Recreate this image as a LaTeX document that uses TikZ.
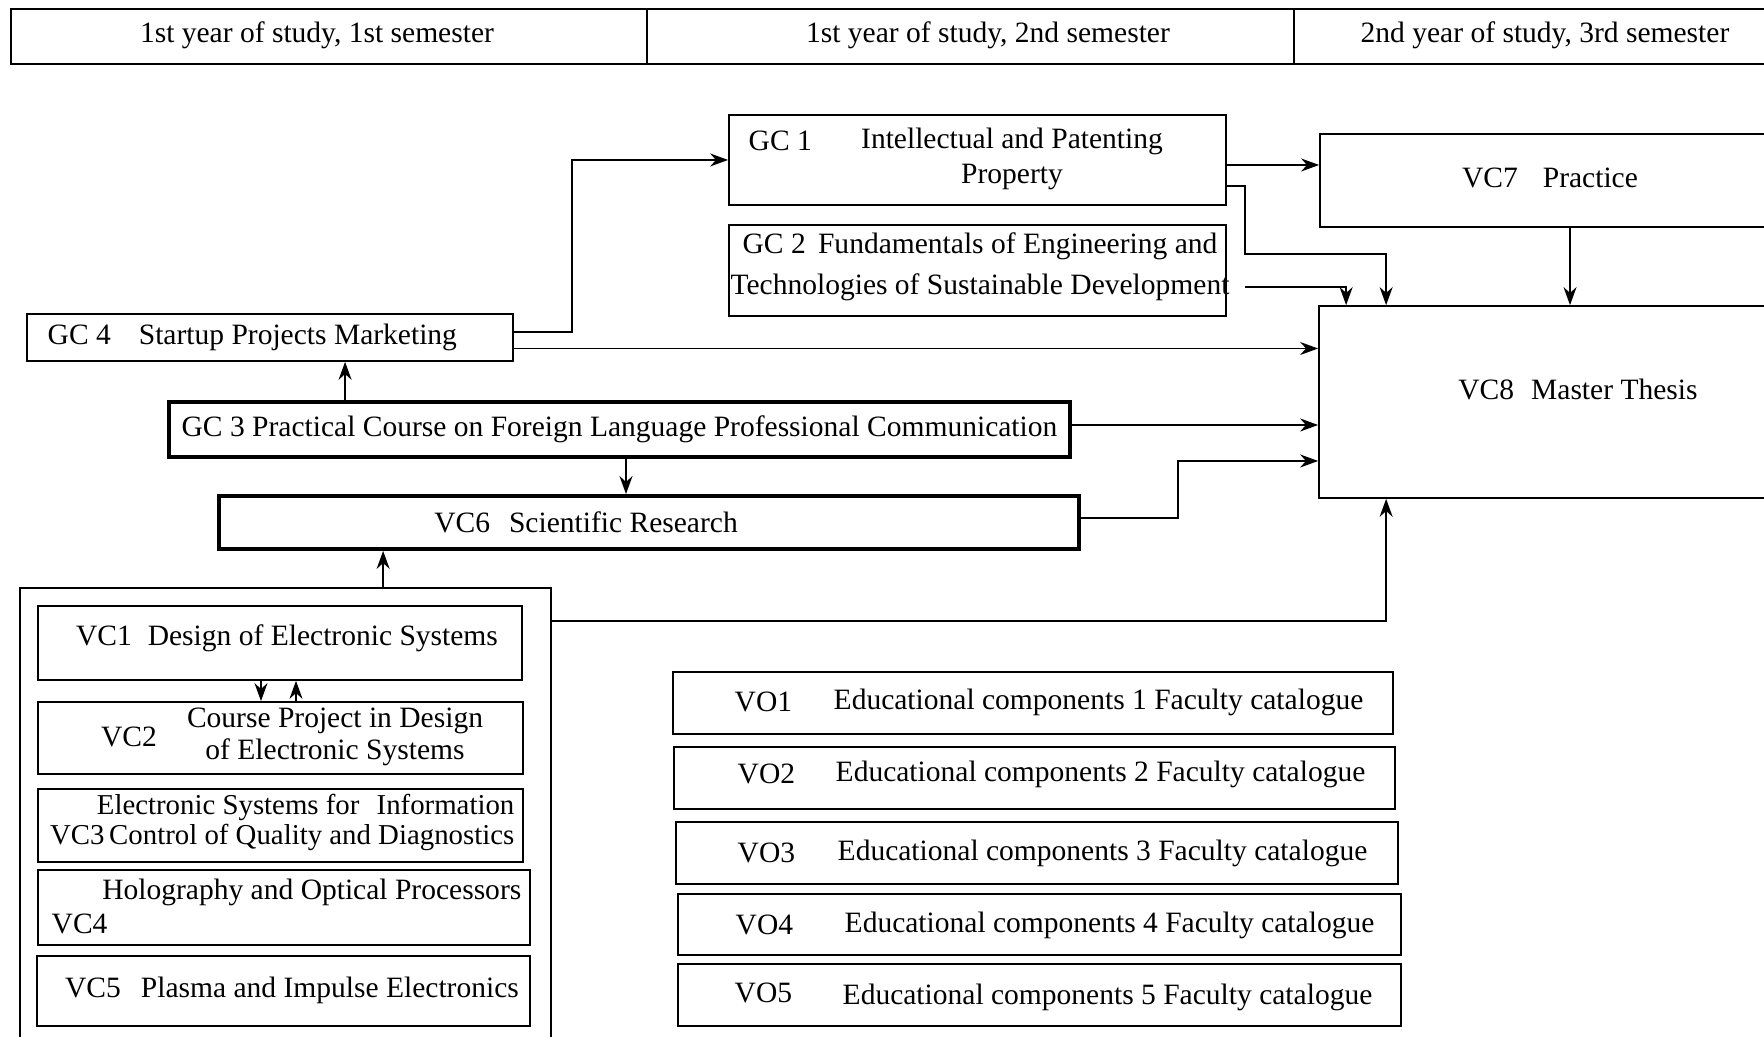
\documentclass[tikz,border=0pt]{standalone}
\usepackage{fontspec}
\setmainfont{Liberation Serif}
\usepackage{tikz}
\usetikzlibrary{arrows.meta,positioning,calc}

\tikzset{
  box/.style={draw, rectangle, inner sep=0pt, line width=0.5pt},
  boldbox/.style={box, line width=1.1pt},
  txt/.style={inner sep=0pt},
  arr/.style={-{Stealth[length=1.8mm,width=1.3mm]}, line width=0.5pt},
}

\begin{document}
\begin{tikzpicture}[font=\fontsize{8.4}{10.2}\selectfont]
  \useasboundingbox (0,0) rectangle (17.64,10.37);
  % Semester header
  \node[box, minimum width=6.36cm, minimum height=0.55cm] (semA) at (3.29,10.005) {};
  \node[box, minimum width=6.47cm, minimum height=0.55cm] (semB) at (9.705,10.005) {};
  \node[box, minimum width=5.06cm, minimum height=0.55cm] (semC) at (15.47,10.005) {};
  \node[txt] (semAtxt) at (3.17,10.02) {1st year of study, 1st semester};
  \node[txt] (semBtxt) at (9.88,10.02) {1st year of study, 2nd semester};
  \node[txt] (semCtxt) at (15.45,10.02) {2nd year of study, 3rd semester};
  % General competences
  \node[box, minimum width=4.97cm, minimum height=0.90cm] (gc1) at (9.775,8.77) {};
  \node[txt, anchor=west] (gc1id) at (7.48,8.96) {GC 1};
  \node[txt, align=center] (gc1txt) at (10.12,8.78) {Intellectual and Patenting\\Property};
  \node[box, minimum width=4.97cm, minimum height=0.91cm] (gc2) at (9.775,7.665) {};
  \node[txt, align=center, font=\fontsize{8.4}{11.6}\selectfont] (gc2txt) at (9.80,7.705)
    {GC 2\, Fundamentals of Engineering and\\Technologies of Sustainable Development};
  \node[box, minimum width=4.86cm, minimum height=0.47cm] (gc4) at (2.70,6.995) {};
  \node[txt, anchor=west] (gc4txt) at (0.47,7.0) {GC 4\hspace{2.8mm}Startup Projects Marketing};
  \node[boldbox, minimum width=9.01cm, minimum height=0.55cm] (gc3) at (6.195,6.075)
    {GC 3 Practical Course on Foreign Language Professional Communication};
  \node[boldbox, minimum width=8.60cm, minimum height=0.53cm] (vc6) at (6.49,5.145) {};
  \node[txt] (vc6txt) at (5.86,5.15) {VC6\hspace{1.9mm}Scientific Research};
  % Practice and thesis
  \node[box, minimum width=4.70cm, minimum height=0.93cm] (vc7) at (15.55,8.565) {};
  \node[txt] (vc7txt) at (15.50,8.59) {VC7\hspace{2.5mm}Practice};
  \node[box, minimum width=4.71cm, minimum height=1.92cm] (vc8) at (15.545,6.35) {};
  \node[txt] (vc8txt) at (15.78,6.48) {VC8\hspace{1.7mm}Master Thesis};
  % Compulsory components group
  \node[box, minimum width=5.31cm, minimum height=4.79cm] (vcgroup) at (2.855,2.095) {};
  \node[box, minimum width=4.84cm, minimum height=0.74cm] (vc1) at (2.80,3.94) {};
  \node[txt] (vc1txt) at (2.87,3.99) {VC1\hspace{1.6mm}Design of Electronic Systems};
  \node[box, minimum width=4.85cm, minimum height=0.72cm] (vc2) at (2.805,2.99) {};
  \node[txt] (vc2id) at (1.29,3.00) {VC2};
  \node[txt, align=center, font=\fontsize{8.4}{9.1}\selectfont] (vc2txt) at (3.35,3.00)
    {Course Project in Design\\of Electronic Systems};
  \node[box, minimum width=4.85cm, minimum height=0.73cm] (vc3) at (2.805,2.115) {};
  \node[txt, align=right, anchor=east, font=\fontsize{8.2}{8.6}\selectfont] (vc3txt) at (5.15,2.145)
    {Electronic Systems for\hspace{1mm} Information\\VC3\,Control of Quality and Diagnostics};
  \node[box, minimum width=4.92cm, minimum height=0.75cm] (vc4) at (2.84,1.295) {};
  \node[txt, anchor=east] (vc4txt) at (5.22,1.45) {Holography and Optical Processors};
  \node[txt, anchor=west] (vc4id) at (0.51,1.13) {VC4};
  \node[box, minimum width=4.93cm, minimum height=0.70cm] (vc5) at (2.835,0.46) {};
  \node[txt] (vc5txt) at (2.92,0.47) {VC5\hspace{2mm}Plasma and Impulse Electronics};
  % Elective components
  \node[box, minimum width=7.20cm, minimum height=0.62cm] (vo1) at (10.33,3.34) {};
  \node[txt, anchor=west] (vo1id) at (7.34,3.35) {VO1};
  \node[txt, anchor=west] (vo1txt) at (8.33,3.35) {Educational components 1 Faculty catalogue};
  \node[box, minimum width=7.21cm, minimum height=0.62cm] (vo2) at (10.345,2.59) {};
  \node[txt, anchor=west] (vo2id) at (7.37,2.63) {VO2};
  \node[txt, anchor=west] (vo2txt) at (8.35,2.63) {Educational components 2 Faculty catalogue};
  \node[box, minimum width=7.22cm, minimum height=0.62cm] (vo3) at (10.37,1.84) {};
  \node[txt, anchor=west] (vo3id) at (7.37,1.84) {VO3};
  \node[txt, anchor=west] (vo3txt) at (8.37,1.84) {Educational components 3 Faculty catalogue};
  \node[box, minimum width=7.23cm, minimum height=0.61cm] (vo4) at (10.395,1.125) {};
  \node[txt, anchor=west] (vo4id) at (7.35,1.12) {VO4};
  \node[txt, anchor=west] (vo4txt) at (8.44,1.12) {Educational components 4 Faculty catalogue};
  \node[box, minimum width=7.23cm, minimum height=0.62cm] (vo5) at (10.395,0.42) {};
  \node[txt, anchor=west] (vo5id) at (7.34,0.44) {VO5};
  \node[txt, anchor=west] (vo5txt) at (8.42,0.40) {Educational components 5 Faculty catalogue};
  % Links
  \draw[arr] ([yshift=0.55mm]gc4.east) -- ++(0.58,0) |- (gc1.west);
  \draw[arr] ([yshift=-1.1mm]gc4.east) coordinate (gc4out) -- (gc4out -| vc8.west);
  \draw[arr] ([yshift=-0.5mm]gc1.east) coordinate (gc1out) -- (gc1out -| vc7.west);
  \draw[arr] ([yshift=-2.6mm]gc1.east) -- ++(0.18,0) -- ++(0,-0.68) -| ([xshift=6.8mm]vc8.north west);
  \draw[arr] ([xshift=1.8mm,yshift=-1.65mm]gc2.east) -| ([xshift=2.8mm]vc8.north west);
  \draw[arr] ([xshift=1.5mm]vc7.south) coordinate (vc7out) -- (vc7out |- vc8.north);
  \draw[arr] ([yshift=0.45mm]gc3.east) coordinate (gc3out) -- (gc3out -| vc8.west);
  \draw[arr] ([yshift=0.45mm]vc6.east) -- ++(0.97,0) |- ([yshift=-5.9mm]vc8.west);
  \draw[arr] ([yshift=-3.4mm]vcgroup.north east) -| ([xshift=6.8mm]vc8.south west);
  \draw[arr] ([xshift=17.8mm]gc3.north west) coordinate (gc3up) -- (gc3up |- gc4.south);
  \draw[arr] ([xshift=0.65mm]gc3.south) coordinate (gc3down) -- (gc3down |- vc6.north);
  \draw[arr] ([xshift=36.4mm]vcgroup.north west) coordinate (grpup) -- (grpup |- vc6.south);
  \draw[arr] ([xshift=-1.9mm]vc1.south) coordinate (vc1down) -- (vc1down |- vc2.north);
  \draw[arr] ([xshift=1.55mm]vc2.north) coordinate (vc2up) -- (vc2up |- vc1.south);
\end{tikzpicture}
\end{document}
